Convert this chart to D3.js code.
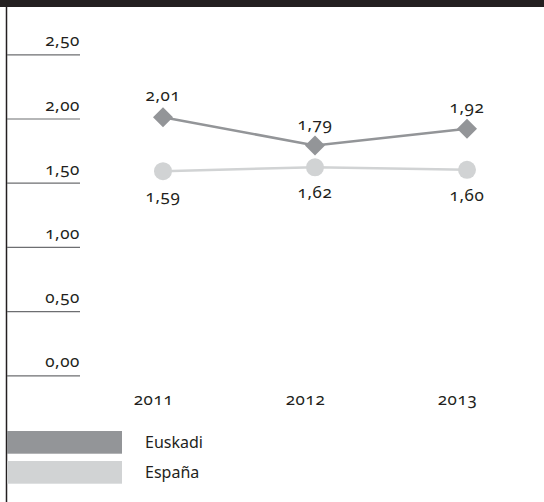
<!DOCTYPE html>
<html>
<head>
<meta charset="utf-8">
<script src="https://cdn.jsdelivr.net/npm/d3@7"></script>
<style>
  html, body { margin: 0; padding: 0; background: #ffffff; }
  svg { display: block; font-family: "Noto Sans", sans-serif; font-feature-settings: "onum" 1; font-variant-numeric: oldstyle-nums; }
  .num { letter-spacing: 0.6px; }
</style>
</head>
<body>
<svg id="chart" width="544" height="502"></svg>
<script>
// Years and series values
const years = ["2011", "2012", "2013"];
const euskadi = [2.01, 1.79, 1.92];
const espana = [1.59, 1.62, 1.60];
const seriesNames = ["Euskadi", "España"];
const yTicks = [0, 0.5, 1.0, 1.5, 2.0, 2.5];

const colors = { Euskadi: "#939598", "España": "#d1d3d4" };
const fmt = v => d3.format(".2f")(v).replace(".", ",");
const numSize = 17;

const svg = d3.select("#chart");
const W = 544, H = 502;

const x = d3.scalePoint().domain(years).range([163, 467]);
const y = d3.scaleLinear().domain([0, 2.5]).range([375.3, 54.3]);

// header band and left rule
svg.append("rect").attr("x", 0).attr("y", 0).attr("width", W).attr("height", 7).attr("fill", "#231f20");
svg.append("line").attr("x1", 6.5).attr("x2", 6.5).attr("y1", 7).attr("y2", H)
  .attr("stroke", "#231f20").attr("stroke-width", 1.5);

// value axis: short rules with labels sitting above them
const yAxis = svg.append("g").attr("transform", "translate(80,0)")
  .call(d3.axisLeft(y).tickValues(yTicks).tickSize(73).tickFormat(fmt));
yAxis.select(".domain").remove();
yAxis.selectAll(".tick line").attr("stroke", "#6d6e71").attr("stroke-width", 1.2);
yAxis.selectAll(".tick text")
  .attr("class", "num")
  .attr("x", 0).attr("dy", "-0.5em")
  .attr("fill", "#231f20").attr("font-size", numSize).style("font-family", "Noto Sans, sans-serif");

// year labels
const xAxis = svg.append("g").attr("transform", "translate(-10,400)")
  .call(d3.axisBottom(x).tickSize(0));
xAxis.select(".domain").remove();
xAxis.selectAll(".tick text").attr("class", "num").attr("y", 0).attr("dy", "0.3em")
  .attr("fill", "#231f20").attr("font-size", numSize).style("font-family", "Noto Sans, sans-serif");

const line = d3.line().x((d, i) => x(years[i])).y(d => y(d));

// España series
svg.append("path").datum(espana).attr("d", line)
  .attr("fill", "none").attr("stroke", colors["España"]).attr("stroke-width", 2.5);
svg.selectAll(".esp").data(espana).join("circle")
  .attr("cx", (d, i) => x(years[i])).attr("cy", d => y(d)).attr("r", 9)
  .attr("fill", colors["España"]);
svg.selectAll(".espLbl").data(espana).join("text")
  .attr("class", "num")
  .attr("x", (d, i) => x(years[i])).attr("y", d => y(d) + 26)
  .attr("text-anchor", "middle").attr("dy", "0.3em")
  .attr("font-size", numSize).attr("fill", "#231f20").text(fmt);

// Euskadi series
svg.append("path").datum(euskadi).attr("d", line)
  .attr("fill", "none").attr("stroke", colors.Euskadi).attr("stroke-width", 2.5);
const diamond = d3.symbol().type(d3.symbolSquare).size(200);
svg.selectAll(".eus").data(euskadi).join("path")
  .attr("d", diamond)
  .attr("transform", (d, i) => `translate(${x(years[i])},${y(d)}) rotate(45)`)
  .attr("fill", colors.Euskadi);
svg.selectAll(".eusLbl").data(euskadi).join("text")
  .attr("class", "num")
  .attr("x", (d, i) => x(years[i])).attr("y", d => y(d) - 21)
  .attr("text-anchor", "middle").attr("dy", "0.3em")
  .attr("font-size", numSize).attr("fill", "#231f20").text(fmt);

// legend
const legend = svg.append("g");
seriesNames.forEach((name, i) => {
  const ly = 431 + i * 30;
  legend.append("rect").attr("x", 7).attr("y", ly).attr("width", 115).attr("height", 22.7)
    .attr("fill", colors[name]);
  legend.append("text").attr("x", 145).attr("y", ly + 11.5).attr("dy", "0.35em")
    .attr("font-size", 16).attr("fill", "#231f20").text(name);
});
</script>
</body>
</html>
